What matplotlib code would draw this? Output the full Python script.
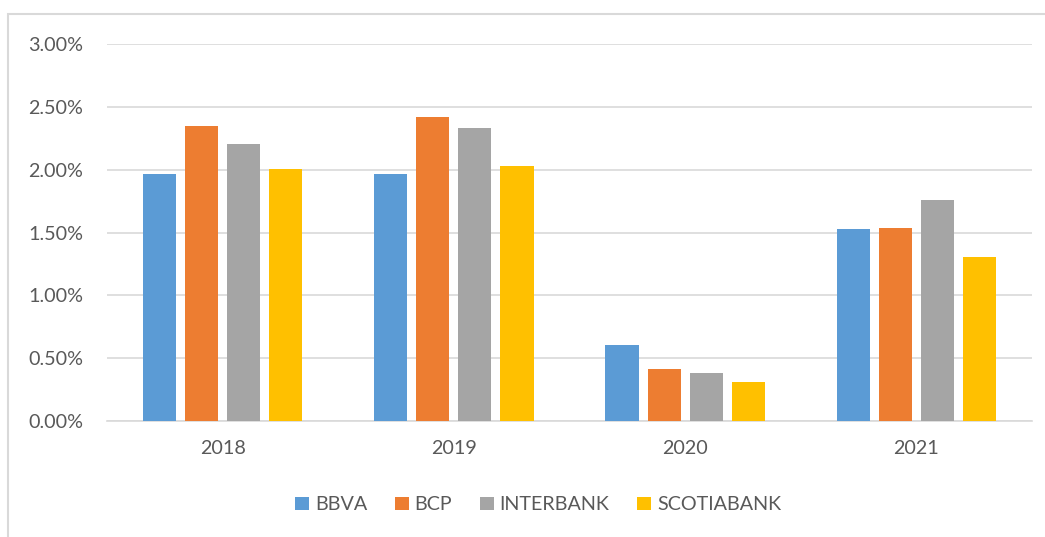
import matplotlib
matplotlib.use("Agg")
import matplotlib.pyplot as plt
import numpy as np
from matplotlib.patches import Rectangle
from matplotlib.ticker import PercentFormatter

years = ["2018", "2019", "2020", "2021"]
banks = ["BBVA", "BCP", "INTERBANK", "SCOTIABANK"]
bbva = [1.965, 1.965, 0.605, 1.528]
bcp = [2.347, 2.42, 0.414, 1.536]
interbank = [2.204, 2.33, 0.382, 1.759]
scotiabank = [2.005, 2.03, 0.31, 1.305]
colors = ["#5b9bd5", "#ed7d31", "#a5a5a5", "#ffc000"]

plt.rcParams['font.family'] = ['Lato', 'DejaVu Sans']
txt = "#595959"

fig = plt.figure(figsize=(10.45, 5.37), dpi=100)
# light frame around the chart area
fig.patches.append(Rectangle((8/1045, -0.1), 1.2, 1 - 14/537 + 0.1, transform=fig.transFigure,
                             fill=False, edgecolor="#d9d9d9", linewidth=1.5))
ax = fig.add_axes([107/1045, 1 - 421/537, (1032-107)/1045, (421-44)/537])

x = np.arange(len(years))
w = 0.143
step = 0.182
for i, (vals, name) in enumerate(zip([bbva, bcp, interbank, scotiabank], banks)):
    ax.bar(x + (i - 1.5) * step, vals, width=w, color=colors[i], label=name, zorder=3)

ax.set_xlim(-0.5, 3.5)
ax.set_ylim(0, 3.0)
ax.set_yticks(np.arange(0, 3.01, 0.5))
ax.yaxis.set_major_formatter(PercentFormatter(decimals=2))
ax.set_xticks(x)
ax.set_xticklabels(years)
ax.grid(axis="y", color="#d9d9d9", linewidth=1.2, zorder=0)
for s in ["top", "right", "left"]:
    ax.spines[s].set_visible(False)
ax.spines["bottom"].set_color("#d9d9d9")
ax.spines["bottom"].set_linewidth(1.2)
ax.tick_params(length=0, labelsize=14.2, colors=txt)
ax.tick_params(axis="y", pad=17)
ax.tick_params(axis="x", pad=14)

fig.legend(loc="center", bbox_to_anchor=(0.515, 1 - 505/537), ncol=4, frameon=False,
           fontsize=14.2, handlelength=0.7, handleheight=0.7, handletextpad=0.3,
           columnspacing=1.4, labelcolor=txt)

fig.savefig("out.png", dpi=100)
